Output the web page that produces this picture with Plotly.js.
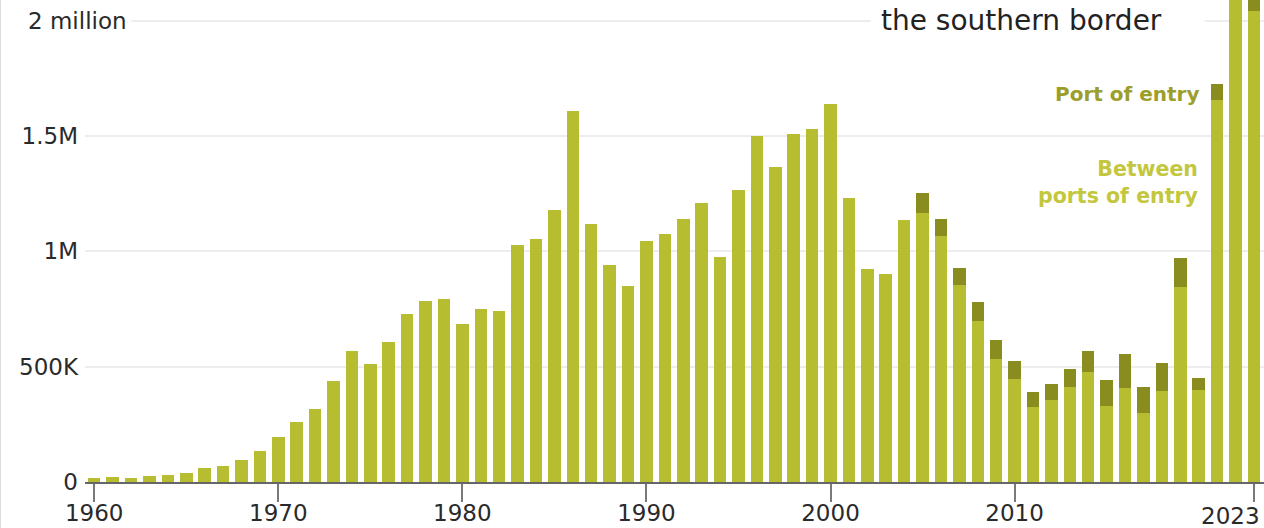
<!DOCTYPE html>
<html>
<head>
<meta charset="utf-8">
<script src="https://cdn.plot.ly/plotly-3.0.1.min.js"></script>
<style>
  html, body { margin: 0; padding: 0; background: #fff; }
  #wrap { position: relative; width: 1264px; height: 528px; }
  #chart { width: 1264px; height: 528px; }
  #edge { position: absolute; left: 0; top: 0; width: 1px; height: 528px; background: #dcdcdc; }
</style>
</head>
<body>
<div id="wrap"><div id="chart"></div><div id="edge"></div></div>
<script>
// Fiscal years
const years = [];
for (let y = 1960; y <= 2023; y++) years.push(y);

// Encounters between ports of entry (thousands)
const betweenK = [
  19, 21, 19, 28, 30, 39, 61, 71, 94, 134,
  197, 260, 317, 437, 569, 510, 605, 730, 785, 792,
  687, 748, 743, 1029, 1055, 1181, 1610, 1118, 939, 849,
  1045, 1074, 1142, 1208, 975, 1267, 1502, 1364, 1511, 1531,
  1638, 1231, 925, 902, 1134, 1166, 1066, 856, 700, 535,
  445, 326, 355, 411, 477, 329, 406, 300, 395, 847,
  398, 1657, 2210, 2043
];

// Encounters at ports of entry (thousands), shown from 2005 on
const portK = [
  0, 0, 0, 0, 0, 0, 0, 0, 0, 0,
  0, 0, 0, 0, 0, 0, 0, 0, 0, 0,
  0, 0, 0, 0, 0, 0, 0, 0, 0, 0,
  0, 0, 0, 0, 0, 0, 0, 0, 0, 0,
  0, 0, 0, 0, 0, 89, 75, 71, 80, 81,
  79, 65, 72, 79, 90, 113, 149, 110, 121, 126,
  55, 69, 170, 430
];

// Axis ticks
const yTickVals = [0, 500000, 1000000, 1500000, 2000000];
const yTickText = ['0', '500K', '1M', '1.5M', ''];
const xTickVals = [1960, 1970, 1980, 1990, 2000, 2010, 2023];
const xTickText = ['1960', '1970', '1980', '1990', '2000', '2010', ''];

const between = betweenK.map(v => v * 1000);
const port = portK.map(v => v * 1000);

const LIGHT = '#b7bd31';
const DARK = '#898c1f';
const FONT = 'DejaVu Sans, Verdana, sans-serif';

const traces = [
  { type: 'bar', x: years, y: between, name: 'Between ports of entry',
    marker: { color: LIGHT, line: { width: 0 } }, hoverinfo: 'skip' },
  { type: 'bar', x: years, y: port, name: 'Port of entry',
    marker: { color: DARK, line: { width: 0 } }, hoverinfo: 'skip' }
];

const layout = {
  width: 1264, height: 528,
  margin: { l: 85, r: 0, t: 0, b: 46, pad: 0 },
  paper_bgcolor: '#ffffff', plot_bgcolor: '#ffffff',
  barmode: 'stack', bargap: 0.32,
  showlegend: false, hovermode: false,
  font: { family: FONT, size: 23, color: '#2a2a2a' },
  xaxis: {
    range: [1959.5, 2023.55], fixedrange: true,
    tickmode: 'array', tickvals: xTickVals, ticktext: xTickText,
    ticks: 'outside', ticklen: 18, tickwidth: 2, tickcolor: '#7a7a7a',
    ticklabelstandoff: -9,
    showline: true, linecolor: '#666666', linewidth: 2,
    showgrid: false, zeroline: false,
    tickfont: { family: FONT, size: 23, color: '#2a2a2a' }
  },
  yaxis: {
    range: [0, 2090000], fixedrange: true,
    tickmode: 'array', tickvals: yTickVals, ticktext: yTickText,
    ticks: '', ticklabelstandoff: 6,
    showgrid: true, gridcolor: '#ededed', gridwidth: 2,
    zeroline: false, showline: false,
    tickfont: { family: FONT, size: 23, color: '#2a2a2a' }
  },
  annotations: [
    { xref: 'paper', yref: 'y', x: (132 - 85) / 1179, y: 2000000,
      xanchor: 'right', yanchor: 'middle', showarrow: false,
      text: '2 million', bgcolor: '#ffffff', borderpad: 4,
      font: { family: FONT, size: 23, color: '#2a2a2a' } },
    { xref: 'paper', yref: 'paper', x: (870 - 85) / 1179, y: 1 - 21 / 482,
      xanchor: 'left', yanchor: 'middle', showarrow: false,
      text: 'the southern border', align: 'left', width: 313,
      bgcolor: '#ffffff', borderpad: 10,
      font: { family: FONT, size: 28, color: '#222222' } },
    { xref: 'paper', yref: 'paper', x: (1201 - 85) / 1179, y: 1 - 94 / 482,
      xanchor: 'right', yanchor: 'middle', showarrow: false,
      text: '<b>Port of entry</b>', align: 'right',
      font: { family: FONT, size: 20, color: '#9c9e2b' } },
    { xref: 'paper', yref: 'paper', x: (1200 - 85) / 1179, y: 1 - 182.5 / 482,
      xanchor: 'right', yanchor: 'middle', showarrow: false,
      text: '<b>Between<br>ports of entry</b>', align: 'right',
      font: { family: FONT, size: 20.5, color: '#c3c73e' } },
    { xref: 'paper', yref: 'paper', x: 1, y: 0, xshift: -2, yshift: -34,
      xanchor: 'right', yanchor: 'middle', showarrow: false,
      text: '2023',
      font: { family: FONT, size: 23, color: '#2a2a2a' } }
  ]
};

Plotly.newPlot('chart', traces, layout, { displayModeBar: false, staticPlot: true });
</script>
</body>
</html>
